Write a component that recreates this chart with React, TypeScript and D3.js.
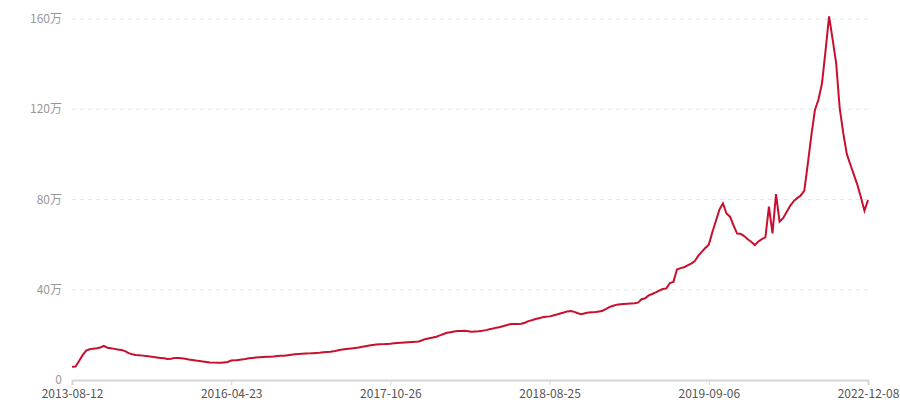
import React, { useRef, useEffect } from "react";
import * as d3 from "d3";

// values in 万, evenly spaced categories
const values: number[] = [
  5.9, 6.0, 8.4, 11.0, 13.0, 13.6, 13.9, 14.1, 14.4, 15.1,
  14.3, 14.1, 13.8, 13.5, 13.3, 12.8, 11.9, 11.4, 11.1, 11.0,
  10.8, 10.6, 10.4, 10.2, 10.0, 9.8, 9.6, 9.3, 9.4, 9.8,
  9.7, 9.6, 9.4, 9.1, 8.9, 8.6, 8.4, 8.2, 8.0, 7.8,
  7.7, 7.6, 7.6, 7.8, 8.0, 8.6, 8.7, 8.9, 9.1, 9.3,
  9.6, 9.8, 10.0, 10.1, 10.2, 10.3, 10.3, 10.4, 10.6, 10.7,
  10.8, 11.0, 11.2, 11.4, 11.5, 11.6, 11.7, 11.8, 11.9, 12.0,
  12.1, 12.3, 12.4, 12.5, 12.7, 13.1, 13.4, 13.6, 13.8, 14.0,
  14.2, 14.4, 14.7, 15.0, 15.3, 15.5, 15.7, 15.8, 15.9, 16.0,
  16.1, 16.3, 16.4, 16.5, 16.6, 16.7, 16.8, 16.9, 17.1, 17.6,
  18.2, 18.5, 18.8, 19.2, 19.8, 20.4, 20.9, 21.2, 21.5, 21.7,
  21.7, 21.8, 21.6, 21.4, 21.5, 21.6, 21.8, 22.1, 22.5, 22.8,
  23.2, 23.5, 23.9, 24.4, 24.8, 24.8, 24.8, 24.9, 25.4, 26.1,
  26.5, 27.0, 27.4, 27.8, 28.0, 28.2, 28.6, 29.0, 29.5, 29.9,
  30.4, 30.6, 30.2, 29.6, 29.2, 29.6, 29.9, 30.0, 30.1, 30.4,
  30.7, 31.5, 32.4, 32.9, 33.4, 33.6, 33.7, 33.8, 33.9, 34.0,
  34.3, 35.8, 36.2, 37.5, 38.1, 38.8, 39.6, 40.3, 40.6, 43.0,
  43.5, 49.0, 49.6, 50.0, 50.8, 51.6, 52.6, 55.0, 56.8, 58.5,
  60.0, 65.5, 70.5, 75.5, 78.3, 73.8, 72.4, 68.5, 64.9, 64.8,
  63.8, 62.4, 61.3, 59.8, 61.4, 62.4, 63.2, 76.8, 65.0, 82.4,
  70.2, 71.7, 74.5, 77.2, 79.3, 80.6, 81.8, 83.9, 96.0, 108.5,
  119.7, 124.3, 131.5, 146.0, 161.2, 151.0, 140.4, 120.5, 109.5, 100.2,
  95.5, 91.0, 86.5, 81.0, 75.0, 79.8,
];

const xTickLabels = ["2013-08-12", "2016-04-23", "2017-10-26", "2018-08-25", "2019-09-06", "2022-12-08"];
const yTicks = [0, 40, 80, 120, 160];

export default function App() {
  const svgRef = useRef<SVGSVGElement>(null);
  const width = 900;
  const height = 400;

  useEffect(() => {
    if (!svgRef.current) return;
    const svg = d3.select(svgRef.current);
    svg.selectAll("*").remove();

    const margin = { top: 19, right: 32, bottom: 20, left: 72 };
    const innerW = width - margin.left - margin.right;
    const innerH = height - margin.top - margin.bottom;
    const font = "'Microsoft YaHei', 'Noto Sans CJK SC', 'Noto Sans', sans-serif";

    const g = svg.append("g").attr("transform", `translate(${margin.left},${margin.top})`);

    const x = d3.scaleLinear().domain([0, values.length - 1]).range([0, innerW]);
    const y = d3.scaleLinear().domain([0, 160]).range([innerH, 0]);

    // grid lines
    g.selectAll(".grid")
      .data(yTicks.filter((t) => t > 0))
      .join("line")
      .attr("x1", 0)
      .attr("x2", innerW)
      .attr("y1", (d) => y(d))
      .attr("y2", (d) => y(d))
      .attr("stroke", "#e6e6e6")
      .attr("stroke-width", 1)
      .attr("stroke-dasharray", "4,4");

    // Y labels
    g.selectAll(".ylab")
      .data(yTicks)
      .join("text")
      .attr("x", -10)
      .attr("y", (d) => y(d))
      .attr("dy", "0.35em")
      .attr("text-anchor", "end")
      .style("font-family", font)
      .style("font-size", "12px")
      .style("fill", "#999")
      .text((d) => (d === 0 ? "0" : `${d}万`));

    // X axis
    const step = (values.length - 1) / (xTickLabels.length - 1);
    const tickIdx = xTickLabels.map((_, i) => i * step);
    const xAxis = g
      .append("g")
      .attr("transform", `translate(0,${innerH})`)
      .call(
        d3
          .axisBottom(x)
          .tickValues(tickIdx)
          .tickSize(5)
          .tickPadding(4)
          .tickFormat((_, i) => xTickLabels[i])
      );
    xAxis.select(".domain").attr("stroke", "#d6d6d6").attr("stroke-width", 2);
    xAxis.selectAll(".tick line").attr("stroke", "#d6d6d6");
    xAxis
      .selectAll("text")
      .style("font-family", font)
      .style("font-size", "12px")
      .style("fill", "#555");

    // line
    const line = d3
      .line<number>()
      .x((_, i) => x(i))
      .y((d) => y(d));
    g.append("path")
      .datum(values)
      .attr("d", line)
      .attr("fill", "none")
      .attr("stroke", "#c8102e")
      .attr("stroke-width", 2)
      .attr("stroke-linejoin", "miter");
  }, []);

  return (
    <svg
      ref={svgRef}
      width={width}
      height={height}
      style={{ position: "absolute", left: 0, top: 0, background: "#fff" }}
    />
  );
}
